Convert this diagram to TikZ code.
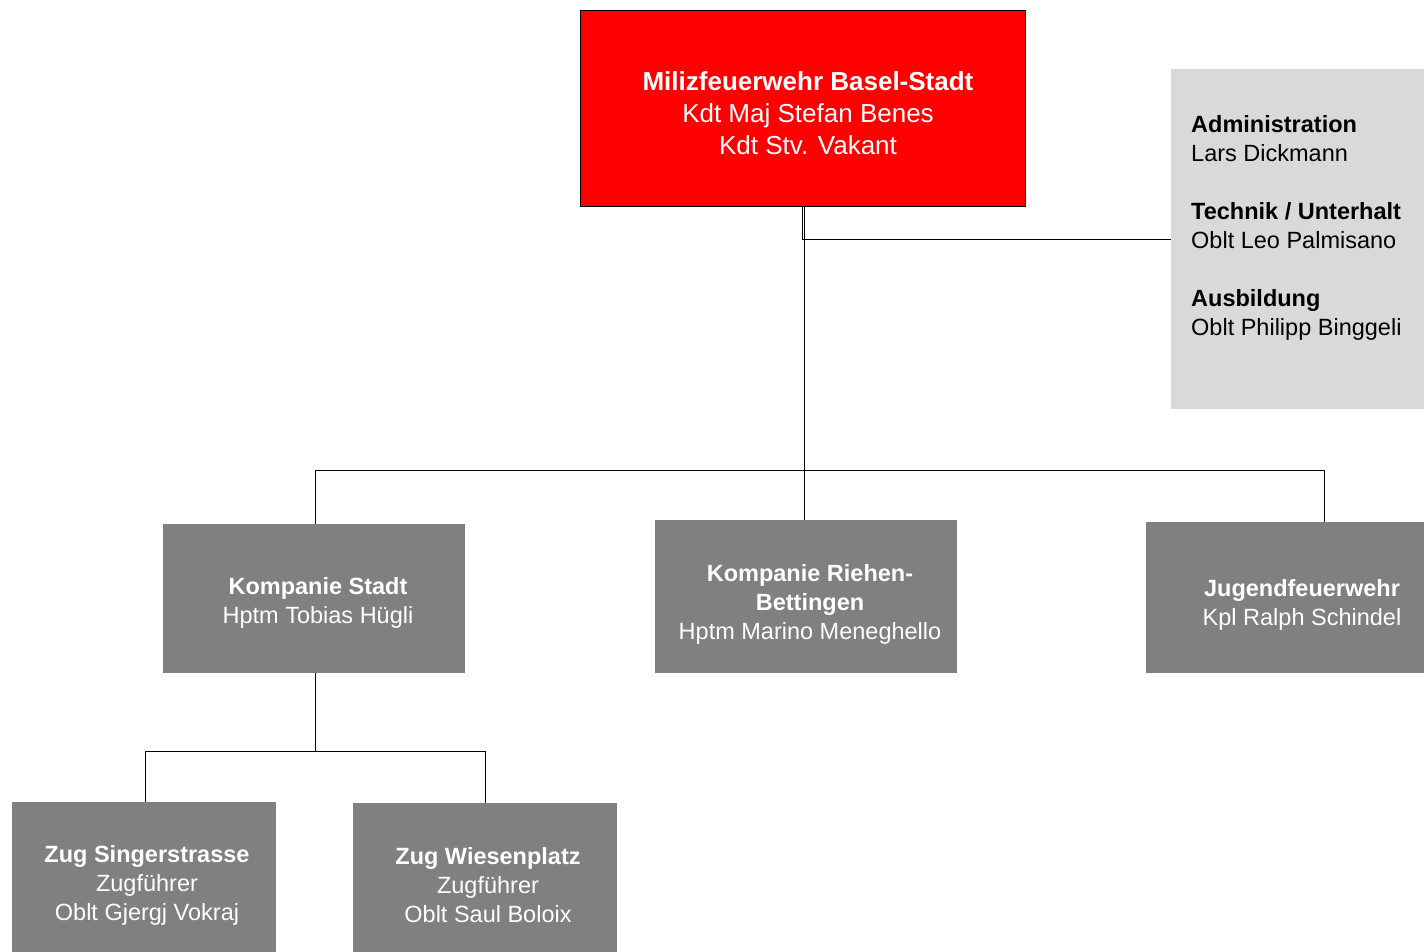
\documentclass[tikz,border=0pt]{standalone}
\usepackage{fontspec}
\setmainfont{Liberation Sans}
\definecolor{boxred}{HTML}{FF0000}
\definecolor{boxgray}{HTML}{808080}
\definecolor{panelgray}{HTML}{D9D9D9}
\tikzset{
  redbox/.style={rectangle, fill=boxred, draw=black, line width=0.8pt, inner sep=0pt},
  redtext/.style={text=white, align=center, inner sep=0pt, font=\fontsize{26}{32}\selectfont},
  graybox/.style={rectangle, fill=boxgray, draw=none, inner sep=0pt},
  graytext/.style={text=white, align=center, inner sep=0pt, font=\fontsize{23.5}{29}\selectfont},
  panelbox/.style={rectangle, fill=panelgray, draw=none, inner sep=0pt},
  paneltext/.style={align=left, inner sep=0pt, text=black, font=\fontsize{23.5}{29}\selectfont},
  conn/.style={draw=black, line width=0.8pt}
}
\begin{document}
\begin{tikzpicture}[x=1pt,y=-1pt]
\useasboundingbox (0,0) rectangle (1424,951);
\clip (0,0) rectangle (1424,951);
\fill[white] (0,0) rectangle (1424,951);

\node[redbox, minimum width=445pt, minimum height=196pt] (top) at (802.5,108) {};
\node[redtext] (top-t) at (808,113)
  {\textbf{Milizfeuerwehr Basel-Stadt}\\Kdt Maj Stefan Benes\\Kdt Stv. Vakant};

\node[panelbox, minimum width=270pt, minimum height=340pt] (panel) at (1306,239) {};
\node[paneltext, anchor=north west] (paneltxt) at (1191,115)
  {\textbf{Administration}\\Lars Dickmann\\[29pt]\textbf{Technik / Unterhalt}\\Oblt Leo Palmisano\\[29pt]\textbf{Ausbildung}\\Oblt Philipp Binggeli};

\node[graybox, minimum width=302pt, minimum height=149pt] (stadt) at (314,598.5) {};
\node[graytext] (stadt-t) at (318,602.5) {\textbf{Kompanie Stadt}\\Hptm Tobias Hügli};
\node[graybox, minimum width=302pt, minimum height=153pt] (riehen) at (806,596.5) {};
\node[graytext] (riehen-t) at (810,604) {\textbf{Kompanie Riehen-}\\\textbf{Bettingen}\\Hptm Marino Meneghello};
\node[graybox, minimum width=312pt, minimum height=151pt] (jugend) at (1302,597.5) {};
\node[graytext] (jugend-t) at (1302,604.5) {\textbf{Jugendfeuerwehr}\\Kpl Ralph Schindel};

\node[graybox, minimum width=264pt, minimum height=162pt] (singer) at (144,883) {};
\node[graytext] (singer-t) at (147,885) {\textbf{Zug Singerstrasse}\\Zugführer\\Oblt Gjergj Vokraj};
\node[graybox, minimum width=264pt, minimum height=161pt] (wiesen) at (485,883.5) {};
\node[graytext] (wiesen-t) at (488,885) {\textbf{Zug Wiesenplatz}\\Zugführer\\Oblt Saul Boloix};

\coordinate (bus1) at (0,470);
\coordinate (bus2) at (0,751);
\coordinate (jx) at ([xshift=22pt]jugend.north);

\draw[conn] ([xshift=-0.5pt]top.south) |- (panel.west);
\draw[conn] ([xshift=1.5pt]top.south) -- ([xshift=1.5pt]top.south |- riehen.north);
\draw[conn] ([xshift=1pt]stadt.north) -- ([xshift=1pt]stadt.north |- bus1) -- (jx |- bus1) -- (jx);
\draw[conn] ([xshift=1pt]stadt.south) -- ([xshift=1pt]stadt.south |- bus2);
\draw[conn] ([xshift=1pt]singer.north) -- ([xshift=1pt]singer.north |- bus2) -- (wiesen.north |- bus2) -- (wiesen.north);
\end{tikzpicture}
\end{document}
